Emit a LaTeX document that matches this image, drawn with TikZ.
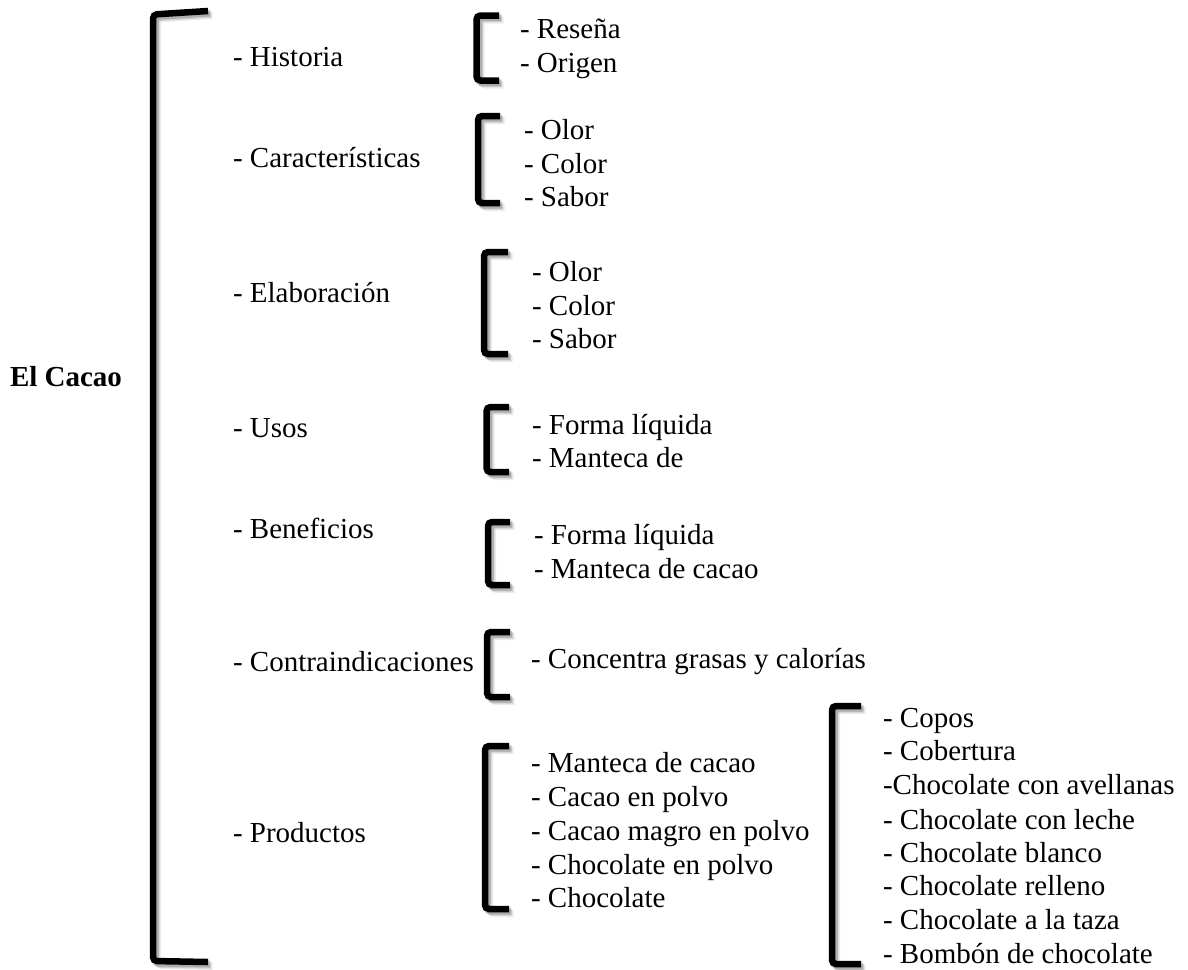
\documentclass[tikz,border=0pt]{standalone}
\usepackage{fontspec}
\setmainfont{Liberation Serif}
% square bracket: #1 spine x, #2 top y, #3 bottom y, #4 arm tip x
\newcommand\sqbracket[4]{%
  \foreach \d/\o in {4.5/0.08,3.2/0.12,2/0.16}{%
    \draw[brkshade, draw opacity=\o] (#4+\d,#2+\d) -- (#1+\d,#2+\d) -- (#1+\d,#3+\d) -- (#4+\d,#3+\d);}
  \draw[brk] (#4,#2) -- (#1,#2) -- (#1,#3) -- (#4,#3);
}
\begin{document}
\begin{tikzpicture}[x=1pt,y=-1pt,
  txt/.style={anchor=base west, inner sep=0pt, outer sep=0pt, font=\fontsize{29}{34}\selectfont},
  title/.style={txt, font=\fontsize{29}{34}\selectfont\bfseries},
  brk/.style={draw=black, line width=6.5pt, rounded corners=4pt},
  brkshade/.style={draw=black, line width=7pt, rounded corners=4pt},
]
\useasboundingbox (0,0) rectangle (1188,969);

% main bracket
\foreach \d/\o in {4.5/0.08,3.2/0.12,2/0.16}{%
  \draw[brkshade, draw opacity=\o] (208+\d,11+\d) -- (153+\d,14.5+\d) -- (153+\d,961+\d) -- (208+\d,962+\d);}
\draw[brk] (208,11) -- (153,14.5) -- (153,961) -- (208,962);

\node[title] (cacao) at (10,386) {El Cacao};

% first level
\node[txt] (hist)  at (233,66)  {- Historia};
\node[txt] (carac) at (233,167) {- Características};
\node[txt] (elab)  at (233,302) {- Elaboración};
\node[txt] (usos)  at (233,437) {- Usos};
\node[txt] (benef) at (233,538) {- Beneficios};
\node[txt] (contra) at (233,671) {- Contraindicaciones};
\node[txt] (prod)  at (233,842) {- Productos};

% Historia
\sqbracket{476.5}{15.5}{80.5}{499}
\node[txt] (h1) at (520,38) {- Reseña};
\node[txt] (h2) at (520,72) {- Origen};

% Características
\sqbracket{478}{116}{203}{500}
\node[txt] (c1) at (524,139) {- Olor};
\node[txt] (c2) at (524,173) {- Color};
\node[txt] (c3) at (524,206) {- Sabor};

% Elaboración
\sqbracket{484}{252}{354}{508}
\node[txt] (e1) at (532,281) {- Olor};
\node[txt] (e2) at (532,315) {- Color};
\node[txt] (e3) at (532,348) {- Sabor};

% Usos
\sqbracket{486.5}{407}{472}{509}
\node[txt] (u1) at (532,434) {- Forma líquida};
\node[txt] (u2) at (532,467) {- Manteca de};

% Beneficios
\sqbracket{488}{522}{585}{510}
\node[txt] (b1) at (534,544) {- Forma líquida};
\node[txt] (b2) at (534,578) {- Manteca de cacao};

% Contraindicaciones
\sqbracket{487}{632}{697}{510}
\node[txt] (k1) at (531,668) {- Concentra grasas y calorías};

% Productos
\sqbracket{485}{746}{909}{509}
\node[txt] (p1) at (531,772) {- Manteca de cacao};
\node[txt] (p2) at (531,806) {- Cacao en polvo};
\node[txt] (p3) at (531,840) {- Cacao magro en polvo};
\node[txt] (p4) at (531,874) {- Chocolate en polvo};
\node[txt] (p5) at (531,907) {- Chocolate};

% Chocolate
\sqbracket{832}{706}{964}{861}
\node[txt] (q1) at (883,727) {- Copos};
\node[txt] (q2) at (883,760) {- Cobertura};
\node[txt] (q3) at (883,794) {-Chocolate con avellanas};
\node[txt] (q4) at (883,829) {- Chocolate con leche};
\node[txt] (q5) at (883,862) {- Chocolate blanco};
\node[txt] (q6) at (883,895) {- Chocolate relleno};
\node[txt] (q7) at (883,929) {- Chocolate a la taza};
\node[txt] (q8) at (883,963) {- Bombón de chocolate};
\end{tikzpicture}
\end{document}
